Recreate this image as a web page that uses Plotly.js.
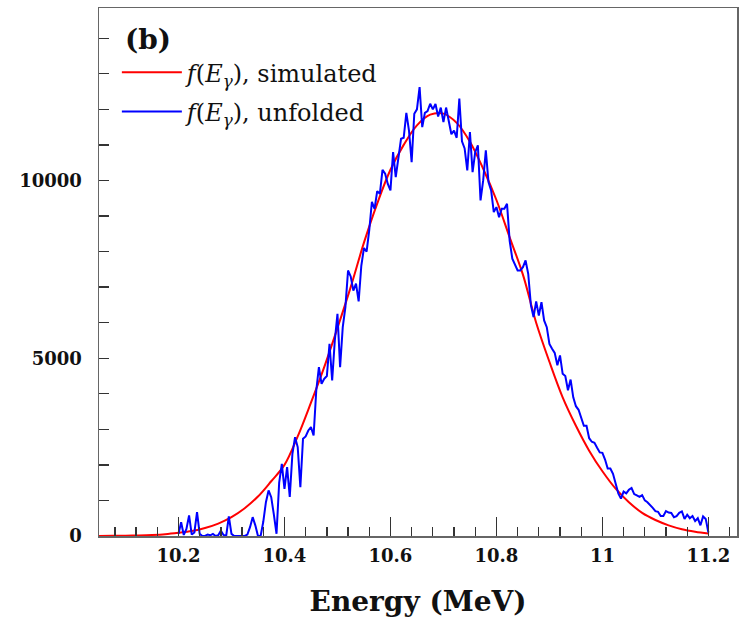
<!DOCTYPE html>
<html><head><meta charset="utf-8">
<script src="https://cdn.plot.ly/plotly-3.0.1.min.js"></script>
<style>html,body{margin:0;padding:0;background:#fff;}#chart{width:744px;height:618px;}</style>
</head><body><div id="chart"></div>
<script>
// Simulated spectrum (red), energies in MeV
const simEnergy = [10.050,10.075,10.100,10.125,10.150,10.175,10.200,10.225,10.250,10.275,10.300,10.325,10.350,10.375,10.400,10.425,10.450,10.475,10.500,10.525,10.550,10.575,10.600,10.625,10.650,10.675,10.700,10.725,10.750,10.775,10.800,10.825,10.850,10.875,10.900,10.925,10.950,10.975,11.000,11.025,11.050,11.075,11.100,11.125,11.150,11.175,11.200];
const simCounts = [3,5,9,16,28,50,90,140,225,350,530,780,1110,1540,2000,2800,3750,4750,5850,7000,8250,9350,10300,11000,11550,11850,11880,11620,11090,10330,9450,8400,7350,6000,4900,3900,3100,2400,1820,1330,950,650,450,300,190,120,70];

// Unfolded spectrum (blue)
const unfEnergy = [10.200,10.205,10.210,10.215,10.220,10.225,10.230,10.235,10.240,10.245,10.250,10.255,10.260,10.265,10.270,10.275,10.280,10.285,10.290,10.295,10.300,10.305,10.310,10.315,10.320,10.325,10.330,10.335,10.340,10.345,10.350,10.355,10.360,10.365,10.370,10.375,10.380,10.385,10.390,10.395,10.400,10.405,10.410,10.415,10.420,10.425,10.430,10.435,10.440,10.445,10.450,10.455,10.460,10.465,10.470,10.475,10.480,10.485,10.490,10.495,10.500,10.505,10.510,10.515,10.520,10.525,10.530,10.535,10.540,10.545,10.550,10.555,10.560,10.565,10.570,10.575,10.580,10.585,10.590,10.595,10.600,10.605,10.610,10.615,10.620,10.625,10.630,10.635,10.640,10.645,10.650,10.655,10.660,10.665,10.670,10.675,10.680,10.685,10.690,10.695,10.700,10.705,10.710,10.715,10.720,10.725,10.730,10.735,10.740,10.745,10.750,10.755,10.760,10.765,10.770,10.775,10.780,10.785,10.790,10.795,10.800,10.805,10.810,10.815,10.820,10.825,10.830,10.835,10.840,10.845,10.850,10.855,10.860,10.865,10.870,10.875,10.880,10.885,10.890,10.895,10.900,10.905,10.910,10.915,10.920,10.925,10.930,10.935,10.940,10.945,10.950,10.955,10.960,10.965,10.970,10.975,10.980,10.985,10.990,10.995,11.000,11.005,11.010,11.015,11.020,11.025,11.030,11.035,11.040,11.045,11.050,11.055,11.060,11.065,11.070,11.075,11.080,11.085,11.090,11.095,11.100,11.105,11.110,11.115,11.120,11.125,11.130,11.135,11.140,11.145,11.150,11.155,11.160,11.165,11.170,11.175,11.180,11.185,11.190,11.195,11.200];
const unfCounts = [60,388,30,200,577,40,100,670,60,0,0,40,20,60,0,20,150,30,0,549,60,0,0,0,0,0,40,248,530,300,0,0,400,951,1280,1092,600,62,1500,2030,1327,1936,1100,2312,2780,2500,1373,2734,2800,2968,3062,2827,4093,4749,4280,4421,4500,5406,4374,5499,6250,4749,5874,6437,7468,7300,6900,7100,6600,7600,8100,8000,8600,9400,9200,9700,9625,10300,10188,9900,9719,10797,10094,10600,11172,11200,11900,11400,10516,11875,12000,12625,11500,11900,11950,12157,12000,12150,11800,12050,11640,12050,11700,11300,11400,11200,12300,11100,10900,10281,11359,10234,10800,10985,9437,10000,10844,9953,9719,9109,9250,8968,9204,9204,9344,8300,7800,7609,7468,7468,7562,7750,7375,6500,6155,6600,6200,6577,6062,5874,5400,5265,5150,4800,5077,4562,4500,4100,4400,3900,3650,3550,3300,3100,3100,2750,2650,2620,2480,2350,2340,2150,1900,1900,1750,1450,1200,1050,1250,1200,1300,1350,1180,1140,1100,1150,1000,950,880,790,700,680,560,560,700,660,650,530,560,650,690,480,600,500,560,420,500,300,550,480,100];

const legendSim = '<i>f</i>(<i>E</i><sub><i>γ</i></sub>), simulated';
const legendUnf = '<i>f</i>(<i>E</i><sub><i>γ</i></sub>), unfolded';
const panelLabel = '(b)';
const xTitle = 'Energy (MeV)';

const serif = 'DejaVu Serif';
const traces = [
  {x: simEnergy, y: simCounts, type: 'scatter', mode: 'lines', name: legendSim, legendgroup: 'sim',
   line: {color: '#ff0000', width: 2, shape: 'spline', smoothing: 1}},
  {x: unfEnergy, y: unfCounts, type: 'scatter', mode: 'lines', name: legendUnf, legendgroup: 'unf',
   line: {color: '#0000ff', width: 2}}
];

const layout = {
  width: 744, height: 618,
  margin: {l: 99, r: 7, t: 8, b: 82},
  paper_bgcolor: '#fff', plot_bgcolor: '#fff',
  showlegend: true,
  legend: {x: 0.028, y: 0.92, xanchor: 'left', yanchor: 'top', bgcolor: 'rgba(0,0,0,0)',
    traceorder: 'grouped', tracegroupgap: 5,
    font: {family: serif, size: 24, color: '#111'}, itemwidth: 60},
  xaxis: {
    range: [10.05, 11.254], showgrid: false, zeroline: false,
    showline: true, mirror: true, linecolor: '#666', linewidth: 1.5,
    ticks: 'inside', tick0: 10.2, dtick: 0.2, ticklen: 19, tickwidth: 1.3, tickcolor: '#333',
    minor: {ticks: 'inside', tick0: 10.2, dtick: 0.04, ticklen: 9, tickwidth: 1.3, tickcolor: '#333', showgrid: false},
    tickfont: {family: serif, size: 18, weight: 'bold', color: '#111'},
    ticklabelstandoff: 3,
    title: {text: xTitle, font: {family: serif, size: 28, weight: 'bold', color: '#111'}, standoff: 26}
  },
  yaxis: {
    range: [0, 14850], showgrid: false, zeroline: false,
    showline: true, mirror: true, linecolor: '#666', linewidth: 1.5,
    ticks: 'inside', tick0: 0, dtick: 5000, ticklen: 10, tickwidth: 1.3, tickcolor: '#333',
    minor: {ticks: 'inside', dtick: 1000, ticklen: 10, tickwidth: 1.3, tickcolor: '#333', showgrid: false},
    tickformat: 'd',
    tickfont: {family: serif, size: 18, weight: 'bold', color: '#111'},
    ticklabelstandoff: 12
  },
  annotations: [
    {text: panelLabel, xref: 'paper', yref: 'paper', x: 0.038, y: 0.94, xanchor: 'left', yanchor: 'middle',
     showarrow: false, font: {family: serif, size: 28, weight: 'bold', color: '#111'}}
  ]
};

Plotly.newPlot('chart', traces, layout, {displayModeBar: false, staticPlot: true});
</script>
</body></html>
